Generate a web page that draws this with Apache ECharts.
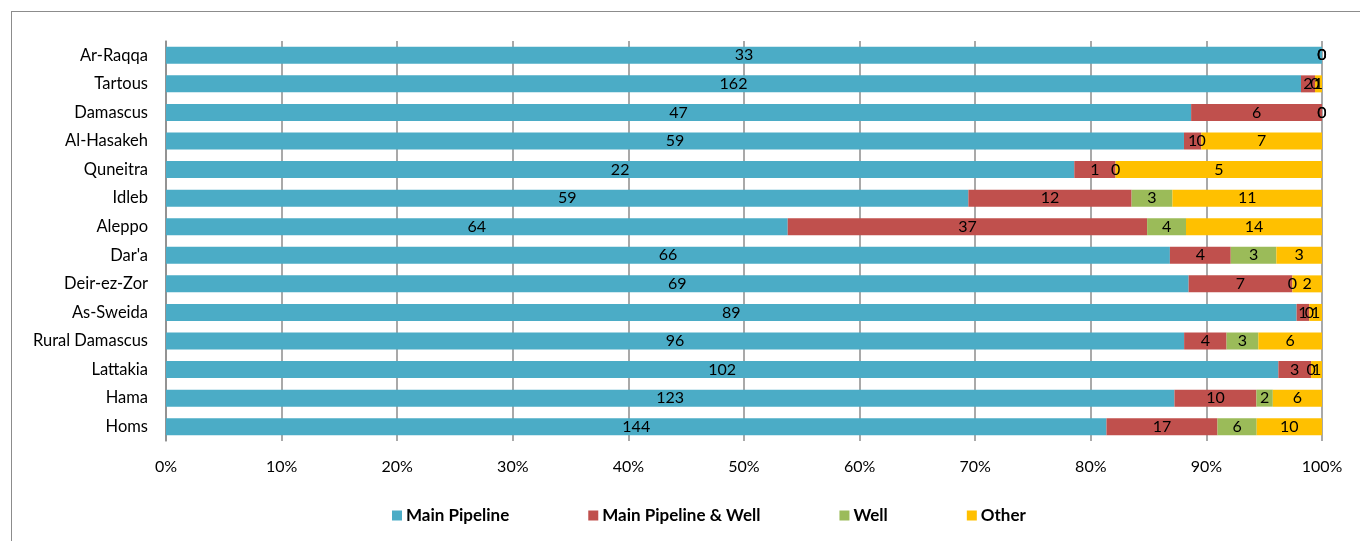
<!DOCTYPE html>
<html lang="en">
<head>
    <meta charset="UTF-8">
    <title>Water source by governorate</title>
    <style>
        body { margin: 0; background: #fff; }
        #frame { position: absolute; left: 11px; top: 11px; width: 1360px; height: 560px; border-left: 1px solid #8c8c8c; border-top: 1px solid #8c8c8c; }
        #main { position: absolute; left: 0; top: 0; width: 1360px; height: 541px; }
    </style>
</head>
<body>
    <div id="frame"></div>
    <div id="main"></div>
    <script src="https://cdn.jsdelivr.net/npm/echarts@6/dist/echarts.min.js"></script>
    <script>
        // categories, bottom to top
        var regions = ['Homs', 'Hama', 'Lattakia', 'Rural Damascus', 'As-Sweida', 'Deir-ez-Zor', "Dar'a",
            'Aleppo', 'Idleb', 'Quneitra', 'Al-Hasakeh', 'Damascus', 'Tartous', 'Ar-Raqqa'];
        var seriesNames = ['Main Pipeline', 'Main Pipeline & Well', 'Well', 'Other'];
        var mainPipeline = [144, 123, 102, 96, 89, 69, 66, 64, 59, 22, 59, 47, 162, 33];
        var pipelineWell = [17, 10, 3, 4, 1, 7, 4, 37, 12, 1, 1, 6, 2, 0];
        var well = [6, 2, 0, 3, 0, 0, 3, 4, 3, 0, 0, 0, 0, 0];
        var other = [10, 6, 1, 6, 1, 2, 3, 14, 11, 5, 7, 0, 1, 0];
        var colors = ['#4BACC6', '#C0504D', '#9BBB59', '#FFC000'];

        var raw = [mainPipeline, pipelineWell, well, other];
        var totals = regions.map(function (r, i) {
            return mainPipeline[i] + pipelineWell[i] + well[i] + other[i];
        });

        var font = 'Lato, "Open Sans", sans-serif';
        var series = [];
        for (var s = 0; s < raw.length; s++) {
            var data = [];
            for (var i = 0; i < regions.length; i++) {
                data.push({ value: raw[s][i] / totals[i] * 100, raw: raw[s][i] });
            }
            series.push({
                name: seriesNames[s],
                type: 'bar',
                stack: 'sum',
                barWidth: 17,
                itemStyle: { color: colors[s] },
                label: {
                    show: true,
                    position: 'inside',
                    color: '#000',
                    fontFamily: font,
                    fontSize: 16,
                    formatter: function (p) { return p.data.raw; }
                },
                emphasis: { disabled: true },
                data: data
            });
        }

        var myChart = echarts.init(document.getElementById('main'));
        var option = {
            animation: false,
            color: colors,
            grid: { left: 166, right: 38, top: 41, height: 400 },
            legend: {
                bottom: 12,
                left: 387,
                itemWidth: 10,
                itemHeight: 10,
                itemGap: 79,
                icon: 'rect',
                textStyle: { fontFamily: font, fontSize: 17, fontWeight: 'bold', color: '#000', padding: [0, 0, 0, -1] },
                data: seriesNames
            },
            xAxis: {
                type: 'value',
                min: 0,
                max: 100,
                interval: 10,
                axisLine: { show: false },
                axisTick: { show: false },
                splitLine: { show: true, lineStyle: { color: '#8c8c8c', width: 1.5 } },
                axisLabel: {
                    color: '#000',
                    fontFamily: font,
                    fontSize: 16,
                    margin: 18,
                    formatter: function (v) { return v + '%'; }
                }
            },
            yAxis: {
                type: 'category',
                data: regions,
                axisLine: { show: true, lineStyle: { color: '#8c8c8c', width: 1.5 } },
                axisTick: { show: false },
                axisLabel: { color: '#000', fontFamily: font, fontSize: 16.5, margin: 18 }
            },
            series: series
        };
        myChart.setOption(option);
    </script>
</body>
</html>
